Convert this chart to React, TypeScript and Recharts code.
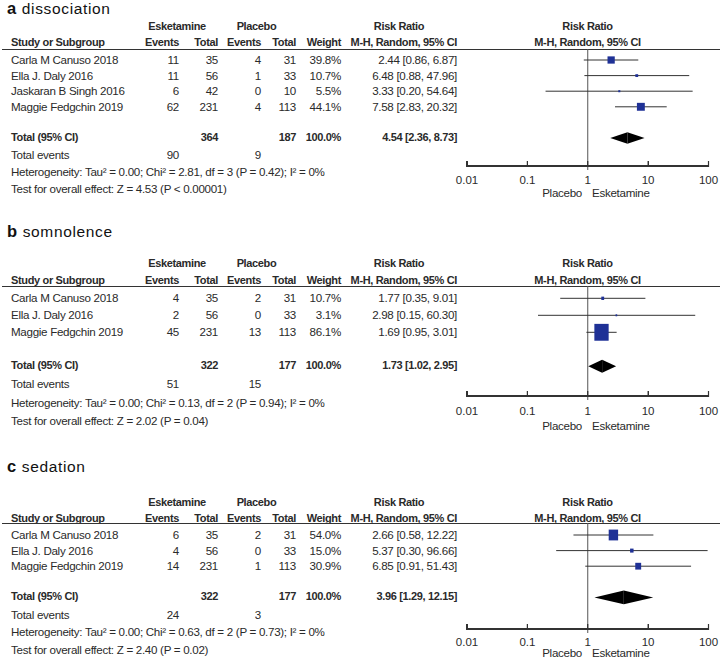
import React from "react";
import { ErrorBar, ReferenceLine, Scatter, ScatterChart, XAxis, YAxis } from "recharts";

const FONT = '"Liberation Sans", Arial, sans-serif';
const TEXT = "#2a2a2a";
const BOX = "#1f3196";
const AXIS = "#333";

// shared axis
const TICKS = [0.01, 0.1, 1, 10, 100];
const TICK_LABELS = ["0.01", "0.1", "1", "10", "100"];

// a: dissociation
const studiesA = ["Carla M Canuso 2018", "Ella J. Daly 2016", "Jaskaran B Singh 2016", "Maggie Fedgchin 2019"];
const eskEventsA = [11, 11, 6, 62];
const eskTotalA = [35, 56, 42, 231];
const plaEventsA = [4, 1, 0, 4];
const plaTotalA = [31, 33, 10, 113];
const weightA = [39.8, 10.7, 5.5, 44.1];
const rrA = [2.44, 6.48, 3.33, 7.58];
const loA = [0.86, 0.88, 0.2, 2.83];
const hiA = [6.87, 47.96, 54.64, 20.32];
const totalA = [364, 187, 90, 9]; // esk total, pla total, esk events, pla events
const pooledA = [4.54, 2.36, 8.73];
const hetA = "Heterogeneity: Tau² = 0.00; Chi² = 2.81, df = 3 (P = 0.42); I² = 0%";
const testA = "Test for overall effect: Z = 4.53 (P < 0.00001)";

// b: somnolence
const studiesB = ["Carla M Canuso 2018", "Ella J. Daly 2016", "Maggie Fedgchin 2019"];
const eskEventsB = [4, 2, 45];
const eskTotalB = [35, 56, 231];
const plaEventsB = [2, 0, 13];
const plaTotalB = [31, 33, 113];
const weightB = [10.7, 3.1, 86.1];
const rrB = [1.77, 2.98, 1.69];
const loB = [0.35, 0.15, 0.95];
const hiB = [9.01, 60.3, 3.01];
const totalB = [322, 177, 51, 15];
const pooledB = [1.73, 1.02, 2.95];
const hetB = "Heterogeneity: Tau² = 0.00; Chi² = 0.13, df = 2 (P = 0.94); I² = 0%";
const testB = "Test for overall effect: Z = 2.02 (P = 0.04)";

// c: sedation
const studiesC = ["Carla M Canuso 2018", "Ella J. Daly 2016", "Maggie Fedgchin 2019"];
const eskEventsC = [6, 4, 14];
const eskTotalC = [35, 56, 231];
const plaEventsC = [2, 0, 1];
const plaTotalC = [31, 33, 113];
const weightC = [54.0, 15.0, 30.9];
const rrC = [2.66, 5.37, 6.85];
const loC = [0.58, 0.3, 0.91];
const hiC = [12.22, 96.66, 51.43];
const totalC = [322, 177, 24, 3];
const pooledC = [3.96, 1.29, 12.15];
const hetC = "Heterogeneity: Tau² = 0.00; Chi² = 0.63, df = 2 (P = 0.73); I² = 0%";
const testC = "Test for overall effect: Z = 2.40 (P = 0.02)";

type Layout = {
  titleBase: number;
  h1: number;
  h2: number;
  rule: number;
  row0: number;
  step: number;
  events: number;
  het: number;
  test: number;
  axis: number;
  tickOff: number;
  sides: number;
  aspect: number;
  diamond: number;
};

const panels = [
  {
    letter: "a", name: "dissociation",
    studies: studiesA, eskEvents: eskEventsA, eskTotal: eskTotalA, plaEvents: plaEventsA, plaTotal: plaTotalA,
    weight: weightA, rr: rrA, lo: loA, hi: hiA, total: totalA, pooled: pooledA, het: hetA, test: testA,
    layout: { titleBase: 12.5, h1: 26, h2: 42.3, rule: 49, row0: 60, step: 15.6, events: 155, het: 171.7, test: 189.3, axis: 166, tickOff: 13.7, sides: 193.3, aspect: 1, diamond: 5.8 },
  },
  {
    letter: "b", name: "somnolence",
    studies: studiesB, eskEvents: eskEventsB, eskTotal: eskTotalB, plaEvents: plaEventsB, plaTotal: plaTotalB,
    weight: weightB, rr: rrB, lo: loB, hi: hiB, total: totalB, pooled: pooledB, het: hetB, test: testB,
    layout: { titleBase: 236, h1: 262.7, h2: 280, rule: 286, row0: 298.3, step: 17, events: 384.3, het: 403, test: 421, axis: 396, tickOff: 15, sides: 426, aspect: 1.18, diamond: 6.5 },
  },
  {
    letter: "c", name: "sedation",
    studies: studiesC, eskEvents: eskEventsC, eskTotal: eskTotalC, plaEvents: plaEventsC, plaTotal: plaTotalC,
    weight: weightC, rr: rrC, lo: loC, hi: hiC, total: totalC, pooled: pooledC, het: hetC, test: testC,
    layout: { titleBase: 470.7, h1: 501.7, h2: 517.7, rule: 523, row0: 535, step: 15.6, events: 615, het: 632.3, test: 650, axis: 629, tickOff: 12.7, sides: 653.3, aspect: 1.15, diamond: 6.8 },
  },
];

// column anchors
const COL_STUDY = 11;
const COL_EV1 = 179;
const COL_TOT1 = 218;
const COL_EV2 = 261;
const COL_TOT2 = 296;
const COL_WT = 341;
const COL_RR = 457;
const PLOT_MID = 587.5;
const CHART_L = 440;
const CHART_W = 280;
const PLOT_L = CHART_L + 27;
const PLOT_R = CHART_L + CHART_W - 11.5;
const OVERSHOOT = 4; // the null line runs a little past the axis

function Txt({
  x, y, align = "left", bold = false, children,
}: { x: number; y: number; align?: "left" | "right" | "center"; bold?: boolean; children: React.ReactNode }) {
  const w = 400;
  const left = align === "left" ? x : align === "right" ? x - w : x - w / 2;
  return (
    <div
      style={{
        position: "absolute", left, top: y - 7, width: align === "left" ? undefined : w,
        textAlign: align, fontSize: bold ? 11 : 11.6, letterSpacing: bold ? -0.35 : -0.3,
        lineHeight: "14px", fontWeight: bold ? 700 : 400,
        whiteSpace: "nowrap", color: TEXT,
      }}
    >
      {children}
    </div>
  );
}

const fmtRR = (r: number, l: number, h: number) => `${r.toFixed(2)} [${l.toFixed(2)}, ${h.toFixed(2)}]`;

// log position of a tick along the plot width, same mapping as the chart's log x axis
const tickLeft = (t: number) => {
  const lo = Math.log10(TICKS[0]);
  const hi = Math.log10(TICKS[TICKS.length - 1]);
  return PLOT_L + ((Math.log10(t) - lo) / (hi - lo)) * (PLOT_R - PLOT_L);
};

function AxisRule({ y }: { y: number }) {
  return (
    <>
      <div style={{ position: "absolute", left: PLOT_L, top: y - 0.6, width: PLOT_R - PLOT_L, height: 1.2, background: AXIS }} />
      {TICKS.map((t) => (
        <div key={t} style={{ position: "absolute", left: tickLeft(t) - 0.6, top: y - 5, width: 1.2, height: 6, background: AXIS }} />
      ))}
    </>
  );
}

function ForestChart({ panel }: { panel: (typeof panels)[number] }) {
  const L: Layout = panel.layout;
  const n = panel.studies.length;
  const height = L.axis + OVERSHOOT - L.rule + 20;
  const yMin = (L.rule - L.row0) / L.step;
  const yMax = (L.axis + OVERSHOOT - L.row0) / L.step;
  const yAxisLine = (L.axis - L.row0) / L.step;
  const rows = panel.rr.map((r, i) => ({
    x: r,
    y: i,
    w: panel.weight[i],
    err: [r - panel.lo[i], panel.hi[i] - r],
  }));
  const first = TICKS[0];
  const last = TICKS[TICKS.length - 1];
  const axisLine = [{ x: 1, y: yAxisLine, err: [1 - first, last - 1] }];
  const tickMarks = TICKS.map((t) => ({ x: t, y: yAxisLine, err: [5 / L.step, 1 / L.step] }));
  const ty = n + 1;
  const [est, plo, phi] = panel.pooled;
  const dh = L.diamond;

  const Square = (p: any) => {
    const s = 1.2 + 0.152 * p.payload.w;
    const sh = s * L.aspect;
    return <rect x={p.cx - s / 2} y={p.cy - sh / 2} width={s} height={sh} fill={BOX} />;
  };
  const LeftHalf = (p: any) => (
    <polygon points={`${p.x1},${p.y1} ${p.x2},${p.y1 - dh} ${p.x2},${p.y1 + dh}`} fill="#000" />
  );
  const RightHalf = (p: any) => (
    <polygon points={`${p.x1},${p.y1 - dh} ${p.x2},${p.y1} ${p.x1},${p.y1 + dh}`} fill="#000" />
  );
  const Nothing = () => <g />;

  return (
    <div style={{ position: "absolute", left: CHART_L, top: L.rule, width: CHART_W, height, zIndex: 2 }}>
      <ScatterChart width={CHART_W} height={height} margin={{ top: 0, right: 11.5, bottom: 0, left: 27 }}>
        <XAxis
          type="number"
          dataKey="x"
          scale="log"
          domain={[first, last]}
          ticks={TICKS}
          interval={0}
          height={20}
          axisLine={false}
          tickLine={false}
          tickSize={0}
          tickMargin={L.tickOff - OVERSHOOT - 4.2}
          tickFormatter={(v: number) => TICK_LABELS[TICKS.indexOf(v)]}
          tick={{ fill: TEXT, fontSize: 11.5 }}
          allowDataOverflow
        />
        <YAxis type="number" dataKey="y" domain={[yMin, yMax]} reversed hide allowDataOverflow />
        <ReferenceLine x={1} stroke="#555" />
        <ReferenceLine segment={[{ x: plo, y: ty }, { x: est, y: ty }]} shape={LeftHalf} ifOverflow="visible" />
        <ReferenceLine segment={[{ x: est, y: ty }, { x: phi, y: ty }]} shape={RightHalf} ifOverflow="visible" />
        <Scatter data={axisLine} shape={Nothing} isAnimationActive={false}>
          <ErrorBar dataKey="err" direction="x" width={0} stroke={AXIS} strokeWidth={1.2} isAnimationActive={false} />
        </Scatter>
        <Scatter data={tickMarks} shape={Nothing} isAnimationActive={false}>
          <ErrorBar dataKey="err" direction="y" width={0} stroke={AXIS} strokeWidth={1.2} isAnimationActive={false} />
        </Scatter>
        <Scatter data={rows} shape={Square} isAnimationActive={false}>
          <ErrorBar dataKey="err" direction="x" width={0} stroke="#333" strokeWidth={1} isAnimationActive={false} />
        </Scatter>
      </ScatterChart>
    </div>
  );
}

function Panel({ panel }: { panel: (typeof panels)[number] }) {
  const L = panel.layout;
  const n = panel.studies.length;
  const rowY = (i: number) => L.row0 + i * L.step;
  const totY = rowY(n + 1) - 1;
  const [est, plo, phi] = panel.pooled;
  return (
    <>
      <div
        style={{
          position: "absolute", left: 7, top: L.titleBase - 12, fontSize: 15.5, lineHeight: "14px",
          height: 14, letterSpacing: 0.65, whiteSpace: "nowrap", color: "#111",
        }}
      >
        <b style={{ fontSize: 16.5, lineHeight: "14px" }}>{panel.letter}</b> {panel.name}
      </div>
      <Txt x={177} y={L.h1} align="center" bold>Esketamine</Txt>
      <Txt x={256.5} y={L.h1} align="center" bold>Placebo</Txt>
      <Txt x={399} y={L.h1} align="center" bold>Risk Ratio</Txt>
      <Txt x={PLOT_MID} y={L.h1} align="center" bold>Risk Ratio</Txt>
      <Txt x={COL_STUDY} y={L.h2} bold>Study or Subgroup</Txt>
      <Txt x={COL_EV1} y={L.h2} align="right" bold>Events</Txt>
      <Txt x={COL_TOT1} y={L.h2} align="right" bold>Total</Txt>
      <Txt x={COL_EV2} y={L.h2} align="right" bold>Events</Txt>
      <Txt x={COL_TOT2} y={L.h2} align="right" bold>Total</Txt>
      <Txt x={COL_WT} y={L.h2} align="right" bold>Weight</Txt>
      <Txt x={COL_RR} y={L.h2} align="right" bold>M-H, Random, 95% CI</Txt>
      <Txt x={PLOT_MID} y={L.h2} align="center" bold>M-H, Random, 95% CI</Txt>
      <div style={{ position: "absolute", left: 2, top: L.rule - 0.5, width: 718, height: 1.2, background: "#333" }} />
      {panel.studies.map((s, i) => (
        <React.Fragment key={s}>
          <Txt x={COL_STUDY} y={rowY(i)}>{s}</Txt>
          <Txt x={COL_EV1} y={rowY(i)} align="right">{panel.eskEvents[i]}</Txt>
          <Txt x={COL_TOT1} y={rowY(i)} align="right">{panel.eskTotal[i]}</Txt>
          <Txt x={COL_EV2} y={rowY(i)} align="right">{panel.plaEvents[i]}</Txt>
          <Txt x={COL_TOT2} y={rowY(i)} align="right">{panel.plaTotal[i]}</Txt>
          <Txt x={COL_WT} y={rowY(i)} align="right">{panel.weight[i].toFixed(1)}%</Txt>
          <Txt x={COL_RR} y={rowY(i)} align="right">{fmtRR(panel.rr[i], panel.lo[i], panel.hi[i])}</Txt>
        </React.Fragment>
      ))}
      <Txt x={COL_STUDY} y={totY} bold>Total (95% CI)</Txt>
      <Txt x={COL_TOT1} y={totY} align="right" bold>{panel.total[0]}</Txt>
      <Txt x={COL_TOT2} y={totY} align="right" bold>{panel.total[1]}</Txt>
      <Txt x={COL_WT} y={totY} align="right" bold>100.0%</Txt>
      <Txt x={COL_RR} y={totY} align="right" bold>{fmtRR(est, plo, phi)}</Txt>
      <Txt x={COL_STUDY} y={L.events}>Total events</Txt>
      <Txt x={COL_EV1} y={L.events} align="right">{panel.total[2]}</Txt>
      <Txt x={COL_EV2} y={L.events} align="right">{panel.total[3]}</Txt>
      <Txt x={COL_STUDY} y={L.het}>{panel.het}</Txt>
      <Txt x={COL_STUDY} y={L.test}>{panel.test}</Txt>
      <Txt x={582} y={L.sides} align="right">Placebo</Txt>
      <Txt x={592} y={L.sides}>Esketamine</Txt>
      <AxisRule y={L.axis} />
      <ForestChart panel={panel} />
    </>
  );
}

export default function App() {
  return (
    <div
      style={{
        position: "absolute", left: 0, top: 0, width: 720, height: 660, background: "#fff",
        fontFamily: FONT, color: TEXT, overflow: "hidden",
      }}
    >
      {panels.map((p) => (
        <Panel key={p.letter} panel={p} />
      ))}
    </div>
  );
}
